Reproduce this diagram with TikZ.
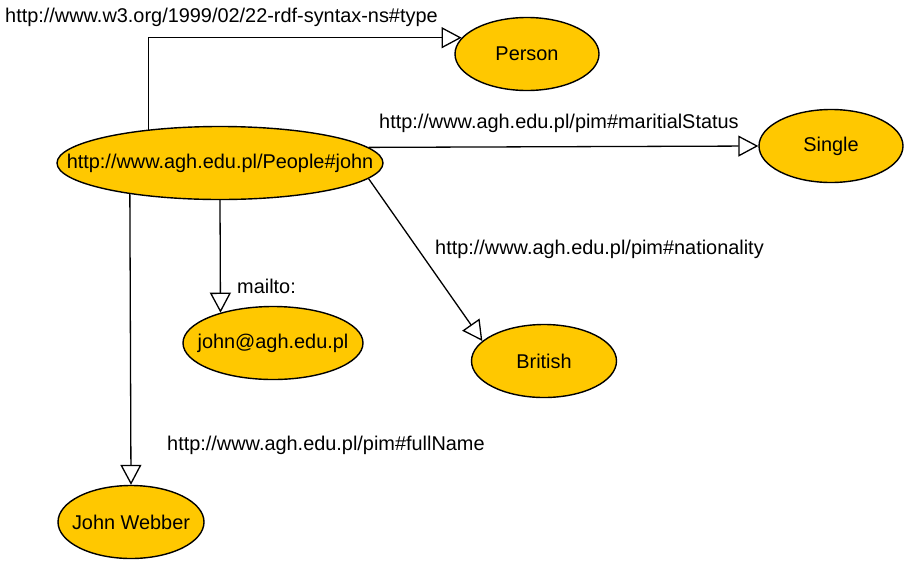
\documentclass[tikz,border=0pt]{standalone}
\usepackage{fontspec}
\setmainfont{Liberation Sans}
\usetikzlibrary{arrows.meta,shapes.geometric}
\definecolor{ink}{HTML}{000000}
\definecolor{gold}{HTML}{FFC800}
\newcommand{\restext}[1]{\makebox[0pt]{#1}}
\tikzset{
  resnode/.style={ellipse,draw=ink,fill=gold,line width=1.4pt,inner sep=0pt,minimum height=73pt},
  proparrow/.style={-{Triangle[length=20pt,width=21pt,fill=white]},line width=1.3pt,draw=ink}
}
\begin{document}
\begin{tikzpicture}[
        x=1pt,y=-1pt,
        font=\fontsize{19.9}{23}\selectfont,
        lab/.style={anchor=west,inner sep=0pt,text=ink}
      ]
        \useasboundingbox (0,0) rectangle (909,563);

        \node[resnode,minimum width=326pt] (john) at (220,163) {\restext{http://www.agh.edu.pl/People\#john}};
        \node[resnode,minimum width=144pt] (person) at (527,54) {\restext{Person}};
        \node[resnode,minimum width=144pt] (single) at (831,146) {\restext{Single}};
        \node[resnode,minimum width=180pt] (mail) at (273,343) {\restext{john@agh.edu.pl}};
        \node[resnode,minimum width=145pt] (british) at (544,361) {\restext{British}};
        \node[resnode,minimum width=146pt] (webber) at (131,522) {\restext{John Webber}};

        \draw[proparrow] (john.155) |- (person.166);
        \draw[proparrow] (john.6.72) -- (single.west);
        \draw[proparrow] (john.-6.7) -- (british.162);
        \draw[proparrow] (john.south) -- (mail.150.9);
        \draw[proparrow] (john.199) -- (webber.north);

        \node[lab] (typelab) at (5,17) {http://www.w3.org/1999/02/22-rdf-syntax-ns\#type};
        \node[lab] (statuslab) at (379,123) {http://www.agh.edu.pl/pim\#maritialStatus};
        \node[lab] (nationlab) at (435,249) {http://www.agh.edu.pl/pim\#nationality};
        \node[lab] (maillab) at (237,286) {mailto:};
        \node[lab] (namelab) at (167,445) {http://www.agh.edu.pl/pim\#fullName};
      \end{tikzpicture}
\end{document}
